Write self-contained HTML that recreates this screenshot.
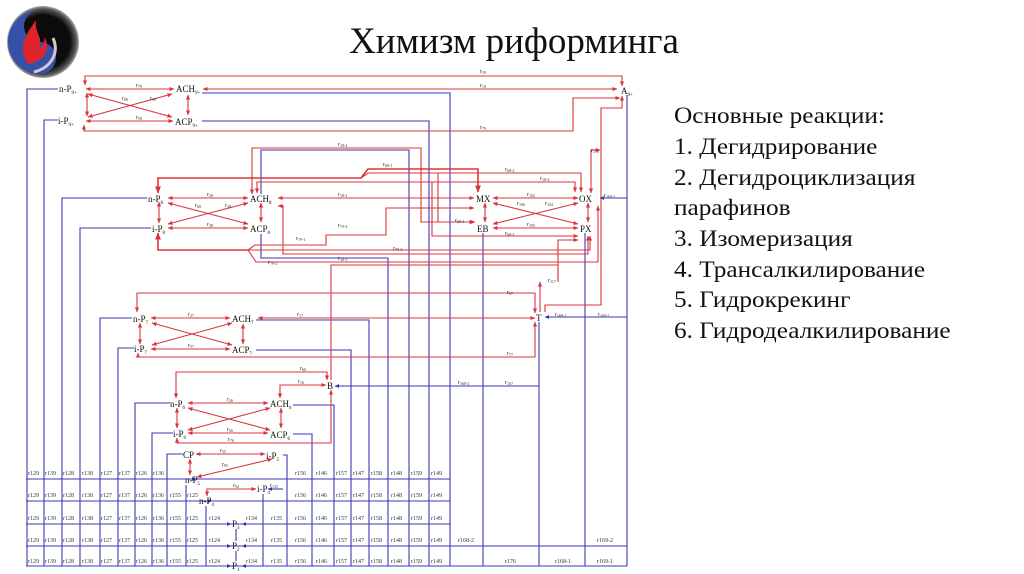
<!DOCTYPE html>
<html><head><meta charset="utf-8"><style>
html,body{margin:0;padding:0;background:#fff;width:1024px;height:574px;overflow:hidden}
svg{position:absolute;left:0;top:0}
.t{font-family:"Liberation Serif",serif}
</style></head><body>
<svg width="1024" height="574" viewBox="0 0 1024 574" xmlns="http://www.w3.org/2000/svg">
<defs>
<marker id="a" viewBox="0 0 6 6" refX="5.5" refY="3" markerWidth="4.5" markerHeight="4.5" orient="auto-start-reverse"><path d="M0,0.5 L6,3 L0,5.5z" fill="#d8323a"/></marker>
<marker id="b" viewBox="0 0 6 6" refX="5.5" refY="3" markerWidth="4" markerHeight="4" orient="auto-start-reverse"><path d="M0,0.5 L6,3 L0,5.5z" fill="#3434b0"/></marker>
<radialGradient id="lg" cx="0.5" cy="0.5" r="0.5"><stop offset="0.75" stop-color="#0c0c0c"/><stop offset="0.92" stop-color="#555"/><stop offset="1" stop-color="#aaa"/></radialGradient>
</defs>
<!-- logo -->
<circle cx="43" cy="42" r="36" fill="url(#lg)"/>
<path d="M40,10 A32,32 0 0 0 40,74 A16,16 0 0 0 40,42 A16,16 0 0 1 40,10z" fill="#3550a8"/>
<path d="M28,64 C16,46 28,32 36,20 C34,34 45,38 38,50 C43,46 45,42 44,37 C52,48 44,62 28,64z" fill="#e0242c"/>
<path d="M34,72 C50,68 60,54 53,38" stroke="#ccc" stroke-width="3" fill="none"/>
<text class="t" x="514" y="53" font-size="37" text-anchor="middle" fill="#111">Химизм риформинга</text>
<g class="t" font-size="23" fill="#111" transform="translate(674,0) scale(1.1,1)">
<text x="0" y="123">Основные реакции:</text>
<text x="0" y="154">1. Дегидрирование</text>
<text x="0" y="185">2. Дегидроциклизация</text>
<text x="0" y="215">парафинов</text>
<text x="0" y="246">3. Изомеризация</text>
<text x="0" y="277">4. Трансалкилирование</text>
<text x="0" y="307">5. Гидрокрекинг</text>
<text x="0" y="338">6. Гидродеалкилирование</text>
</g>

<!-- BLUE -->
<g stroke="#3a3ab8" stroke-width="1.1" fill="none">
<path d="M58,89 H27 V566"/>
<path d="M58,120 H44 V566"/>
<path d="M147,198 H62 V566"/>
<path d="M151,228 H80 V566"/>
<path d="M132,318 H100 V566"/>
<path d="M134,348 H118 V566"/>
<path d="M170,403 H135 V566"/>
<path d="M173,433 H152 V566"/>
<path d="M183,454 H167 V566"/>
<path d="M186,485 V566"/>
<path d="M206,506 V566"/>
<path d="M263,494 V566"/>
<path d="M283,455 H287 V566"/>
<path d="M293,434 H312 V566"/>
<path d="M293,405 H334 V566"/>
<path d="M256,350 H351 V566"/>
<path d="M256,320 H369 V566"/>
<path d="M261,234 V258 H388 V566"/>
<path d="M261,194 V150 H409 V566"/>
<path d="M202,121 H429 V566"/>
<path d="M202,93 H450 V566"/>
<path d="M483,233 V566"/>
<path d="M539,322 V566"/>
<path d="M585,233 V566"/>
<path d="M627,95 V566"/>
<path d="M627,317 H545" marker-end="url(#b)"/>
<path d="M539,386 H335" marker-end="url(#b)"/>
<path d="M627,198 H600" marker-end="url(#b)"/>
<path d="M26,479 H450 M26,501 H450 M26,524 H450 M26,546 H627 M26,566 H627"/>
<path d="M167,479 H196" marker-end="url(#b)"/>
<path d="M186,501 H212" marker-end="url(#b)"/>
<path d="M283,489 H268" marker-end="url(#b)"/>
<path d="M206,524 H231" marker-end="url(#b)"/>
<path d="M206,546 H231" marker-end="url(#b)"/>
<path d="M206,566 H231" marker-end="url(#b)"/>
<path d="M263,524 H242" marker-end="url(#b)"/>
<path d="M263,546 H242" marker-end="url(#b)"/>
<path d="M263,566 H242" marker-end="url(#b)"/>
<path d="M236,529 V541 M236,551 V561"/>
</g>

<!-- RED -->
<g stroke="#d8363e" stroke-width="1.1" fill="none">
<path d="M85,85 V76 H622 V86" marker-start="url(#a)" marker-end="url(#a)"/>
<path d="M203,89 H617" marker-start="url(#a)" marker-end="url(#a)"/>
<path d="M84,125 V131 H573 V98 H620" marker-start="url(#a)" marker-end="url(#a)"/>
<path d="M86,89 H174" marker-start="url(#a)" marker-end="url(#a)"/>
<path d="M86,121 H173" marker-start="url(#a)" marker-end="url(#a)"/>
<path d="M88,94 L172,117" marker-start="url(#a)" marker-end="url(#a)"/>
<path d="M88,117 L172,94" marker-start="url(#a)" marker-end="url(#a)"/>
<path d="M87,93 V116" marker-start="url(#a)" marker-end="url(#a)"/>
<path d="M188,95 V115" marker-start="url(#a)" marker-end="url(#a)"/>
<path d="M545,312 V305 H601 V108 H622 V96" marker-end="url(#a)"/>
<path d="M168,198 H248" marker-start="url(#a)" marker-end="url(#a)"/>
<path d="M168,228 H248" marker-start="url(#a)" marker-end="url(#a)"/>
<path d="M168,203 L248,224" marker-start="url(#a)" marker-end="url(#a)"/>
<path d="M168,224 L248,203" marker-start="url(#a)" marker-end="url(#a)"/>
<path d="M159,202 V223" marker-start="url(#a)" marker-end="url(#a)"/>
<path d="M261,203 V222" marker-start="url(#a)" marker-end="url(#a)"/>
<path d="M278,198 H474" marker-start="url(#a)" marker-end="url(#a)"/>
<path d="M493,198 H578" marker-start="url(#a)" marker-end="url(#a)"/>
<path d="M493,228 H578" marker-start="url(#a)" marker-end="url(#a)"/>
<path d="M493,203 L578,224" marker-start="url(#a)" marker-end="url(#a)"/>
<path d="M493,224 L578,203" marker-start="url(#a)" marker-end="url(#a)"/>
<path d="M485,203 V222" marker-start="url(#a)" marker-end="url(#a)"/>
<path d="M588,203 V222" marker-start="url(#a)" marker-end="url(#a)"/>
<path d="M252,194 V148 H421 V222 H474" marker-start="url(#a)" marker-end="url(#a)"/>
<path stroke-width="1.6" d="M158,193 V178 H361 L368,169 H478 V192" marker-start="url(#a)" marker-end="url(#a)"/>
<path d="M361,178 L368,173 H581 V192" marker-end="url(#a)"/>
<path d="M257,193 V182 H575 V192" marker-start="url(#a)" marker-end="url(#a)"/>
<path d="M438,173 V222 H475" marker-end="url(#a)"/>
<path d="M432,182 V236 H578" marker-end="url(#a)"/>
<path d="M278,206 H283 V254 H588 V236" marker-start="url(#a)" marker-end="url(#a)"/>
<path stroke-width="1.6" d="M158,233 V250 H248" marker-start="url(#a)"/>
<path d="M248,250 L255,245 H326 V235 H386 V208 H474" marker-end="url(#a)"/>
<path d="M248,250 H590 V236" marker-end="url(#a)"/>
<path d="M248,250 L256,262 H598 V206" marker-end="url(#a)"/>
<path d="M591,193 V150 H600" marker-start="url(#a)" marker-end="url(#a)"/>
<path d="M558,280 V240 H578" marker-end="url(#a)"/>
<path d="M137,312 V293 H535 V313" marker-start="url(#a)" marker-end="url(#a)"/>
<path d="M151,318 H230" marker-start="url(#a)" marker-end="url(#a)"/>
<path d="M258,318 H535" marker-start="url(#a)" marker-end="url(#a)"/>
<path d="M151,349 H230" marker-start="url(#a)" marker-end="url(#a)"/>
<path d="M152,323 L232,345" marker-start="url(#a)" marker-end="url(#a)"/>
<path d="M152,345 L232,323" marker-start="url(#a)" marker-end="url(#a)"/>
<path d="M140,323 V344" marker-start="url(#a)" marker-end="url(#a)"/>
<path d="M243,324 V344" marker-start="url(#a)" marker-end="url(#a)"/>
<path d="M138,353 V357 H535 V322" marker-start="url(#a)" marker-end="url(#a)"/>
<path d="M331,380 V265 H558 V282 M540,312 V282" marker-end="url(#a)"/>
<path d="M176,398 V372 H327 V380" marker-start="url(#a)" marker-end="url(#a)"/>
<path d="M280,398 V385 H326" marker-start="url(#a)" marker-end="url(#a)"/>
<path d="M188,403 H268" marker-start="url(#a)" marker-end="url(#a)"/>
<path d="M188,433 H268" marker-start="url(#a)" marker-end="url(#a)"/>
<path d="M188,408 L270,430" marker-start="url(#a)" marker-end="url(#a)"/>
<path d="M188,430 L270,408" marker-start="url(#a)" marker-end="url(#a)"/>
<path d="M177,408 V428" marker-start="url(#a)" marker-end="url(#a)"/>
<path d="M281,408 V428" marker-start="url(#a)" marker-end="url(#a)"/>
<path d="M177,438 V443 H331 V390" marker-start="url(#a)" marker-end="url(#a)"/>
<path d="M196,454 H265" marker-start="url(#a)" marker-end="url(#a)"/>
<path d="M272,459 L197,477" marker-start="url(#a)" marker-end="url(#a)"/>
<path d="M190,459 V475" marker-start="url(#a)" marker-end="url(#a)"/>
<path d="M207,496 V489 H256" marker-start="url(#a)" marker-end="url(#a)"/>
</g>

<g class="t" font-size="9" fill="#111">
<text x="59" y="92">n-P<tspan font-size="5" dy="2">9+</tspan></text>
<text x="176" y="92">ACH<tspan font-size="5" dy="2">9+</tspan></text>
<text x="58" y="124">i-P<tspan font-size="5" dy="2">9+</tspan></text>
<text x="175" y="125">ACP<tspan font-size="5" dy="2">9+</tspan></text>
<text x="621" y="94">A<tspan font-size="5" dy="2">9+</tspan></text>
<text x="148" y="202">n-P<tspan font-size="5" dy="2">8</tspan></text>
<text x="250" y="202">ACH<tspan font-size="5" dy="2">8</tspan></text>
<text x="152" y="232">i-P<tspan font-size="5" dy="2">8</tspan></text>
<text x="250" y="232">ACP<tspan font-size="5" dy="2">8</tspan></text>
<text x="476" y="202">MX</text>
<text x="579" y="202">OX</text>
<text x="477" y="232">EB</text>
<text x="580" y="232">PX</text>
<text x="133" y="322">n-P<tspan font-size="5" dy="2">7</tspan></text>
<text x="232" y="322">ACH<tspan font-size="5" dy="2">7</tspan></text>
<text x="134" y="352">i-P<tspan font-size="5" dy="2">7</tspan></text>
<text x="232" y="353">ACP<tspan font-size="5" dy="2">7</tspan></text>
<text x="536" y="321">T</text>
<text x="327" y="389">B</text>
<text x="170" y="407">n-P<tspan font-size="5" dy="2">6</tspan></text>
<text x="270" y="407">ACH<tspan font-size="5" dy="2">6</tspan></text>
<text x="173" y="437">i-P<tspan font-size="5" dy="2">6</tspan></text>
<text x="270" y="438">ACP<tspan font-size="5" dy="2">6</tspan></text>
<text x="183" y="458">CP</text>
<text x="266" y="459">i-P<tspan font-size="5" dy="2">5</tspan></text>
<text x="185" y="483">n-P<tspan font-size="5" dy="2">5</tspan></text>
<text x="257" y="492">i-P<tspan font-size="5" dy="2">4</tspan></text>
<text x="199" y="504">n-P<tspan font-size="5" dy="2">4</tspan></text>
<text x="232" y="527">P<tspan font-size="5" dy="2">3</tspan></text>
<text x="232" y="549">P<tspan font-size="5" dy="2">2</tspan></text>
<text x="232" y="569">P<tspan font-size="5" dy="2">1</tspan></text>
</g>

<g class="t" font-size="6" fill="#333">
<text x="480" y="73">r<tspan font-size="4" dy="1">59</tspan></text>
<text x="480" y="87">r<tspan font-size="4" dy="1">19</tspan></text>
<text x="480" y="129">r<tspan font-size="4" dy="1">79</tspan></text>
<text x="136" y="87">r<tspan font-size="4" dy="1">79</tspan></text>
<text x="136" y="119">r<tspan font-size="4" dy="1">59</tspan></text>
<text x="122" y="100">r<tspan font-size="4" dy="1">89</tspan></text>
<text x="150" y="100">r<tspan font-size="4" dy="1">39</tspan></text>
<text x="338" y="146">r<tspan font-size="4" dy="1">18-4</tspan></text>
<text x="383" y="166">r<tspan font-size="4" dy="1">68-1</tspan></text>
<text x="505" y="171">r<tspan font-size="4" dy="1">68-2</tspan></text>
<text x="540" y="180">r<tspan font-size="4" dy="1">18-2</tspan></text>
<text x="338" y="196">r<tspan font-size="4" dy="1">18-1</tspan></text>
<text x="207" y="196">r<tspan font-size="4" dy="1">28</tspan></text>
<text x="207" y="226">r<tspan font-size="4" dy="1">58</tspan></text>
<text x="195" y="207">r<tspan font-size="4" dy="1">68</tspan></text>
<text x="225" y="207">r<tspan font-size="4" dy="1">38</tspan></text>
<text x="527" y="196">r<tspan font-size="4" dy="1">102</tspan></text>
<text x="517" y="205">r<tspan font-size="4" dy="1">106</tspan></text>
<text x="545" y="205">r<tspan font-size="4" dy="1">104</tspan></text>
<text x="527" y="226">r<tspan font-size="4" dy="1">105</tspan></text>
<text x="455" y="222">r<tspan font-size="4" dy="1">68-4</tspan></text>
<text x="505" y="235">r<tspan font-size="4" dy="1">68-3</tspan></text>
<text x="338" y="227">r<tspan font-size="4" dy="1">79-4</tspan></text>
<text x="296" y="240">r<tspan font-size="4" dy="1">79-1</tspan></text>
<text x="393" y="250">r<tspan font-size="4" dy="1">79-3</tspan></text>
<text x="338" y="260">r<tspan font-size="4" dy="1">18-3</tspan></text>
<text x="268" y="264">r<tspan font-size="4" dy="1">79-2</tspan></text>
<text x="591" y="152">r<tspan font-size="4" dy="1">118</tspan></text>
<text x="604" y="197">r<tspan font-size="4" dy="1">169-1</tspan></text>
<text x="548" y="282">r<tspan font-size="4" dy="1">117</tspan></text>
<text x="507" y="294">r<tspan font-size="4" dy="1">67</tspan></text>
<text x="188" y="316">r<tspan font-size="4" dy="1">27</tspan></text>
<text x="297" y="316">r<tspan font-size="4" dy="1">17</tspan></text>
<text x="188" y="347">r<tspan font-size="4" dy="1">57</tspan></text>
<text x="507" y="355">r<tspan font-size="4" dy="1">77</tspan></text>
<text x="555" y="316">r<tspan font-size="4" dy="1">168-1</tspan></text>
<text x="598" y="316">r<tspan font-size="4" dy="1">169-2</tspan></text>
<text x="300" y="370">r<tspan font-size="4" dy="1">66</tspan></text>
<text x="298" y="383">r<tspan font-size="4" dy="1">16</tspan></text>
<text x="458" y="384">r<tspan font-size="4" dy="1">168-2</tspan></text>
<text x="505" y="384">r<tspan font-size="4" dy="1">167</tspan></text>
<text x="227" y="401">r<tspan font-size="4" dy="1">26</tspan></text>
<text x="227" y="431">r<tspan font-size="4" dy="1">56</tspan></text>
<text x="228" y="441">r<tspan font-size="4" dy="1">76</tspan></text>
<text x="220" y="452">r<tspan font-size="4" dy="1">55</tspan></text>
<text x="222" y="466">r<tspan font-size="4" dy="1">95</tspan></text>
<text x="233" y="487">r<tspan font-size="4" dy="1">94</tspan></text>
<text x="270" y="487">r<tspan font-size="4" dy="1">135</tspan></text>
</g>
<g class="t" font-size="6" fill="#333">
<text y="475">
<tspan x="28">r129</tspan><tspan x="45">r139</tspan><tspan x="63">r128</tspan><tspan x="82">r138</tspan><tspan x="101">r127</tspan><tspan x="119">r137</tspan><tspan x="136">r126</tspan><tspan x="153">r136</tspan><tspan x="295">r156</tspan><tspan x="316">r146</tspan><tspan x="336">r157</tspan><tspan x="353">r147</tspan><tspan x="371">r158</tspan><tspan x="391">r148</tspan><tspan x="411">r159</tspan><tspan x="431">r149</tspan></text>
<text y="497">
<tspan x="28">r129</tspan><tspan x="45">r139</tspan><tspan x="63">r128</tspan><tspan x="82">r138</tspan><tspan x="101">r127</tspan><tspan x="119">r137</tspan><tspan x="136">r126</tspan><tspan x="153">r136</tspan><tspan x="170">r155</tspan><tspan x="187">r125</tspan><tspan x="295">r156</tspan><tspan x="316">r146</tspan><tspan x="336">r157</tspan><tspan x="353">r147</tspan><tspan x="371">r158</tspan><tspan x="391">r148</tspan><tspan x="411">r159</tspan><tspan x="431">r149</tspan></text>
<text y="520">
<tspan x="28">r129</tspan><tspan x="45">r139</tspan><tspan x="63">r128</tspan><tspan x="82">r138</tspan><tspan x="101">r127</tspan><tspan x="119">r137</tspan><tspan x="136">r126</tspan><tspan x="153">r136</tspan><tspan x="170">r155</tspan><tspan x="187">r125</tspan><tspan x="209">r124</tspan><tspan x="246">r134</tspan><tspan x="271">r135</tspan><tspan x="295">r156</tspan><tspan x="316">r146</tspan><tspan x="336">r157</tspan><tspan x="353">r147</tspan><tspan x="371">r158</tspan><tspan x="391">r148</tspan><tspan x="411">r159</tspan><tspan x="431">r149</tspan></text>
<text y="542">
<tspan x="28">r129</tspan><tspan x="45">r139</tspan><tspan x="63">r128</tspan><tspan x="82">r138</tspan><tspan x="101">r127</tspan><tspan x="119">r137</tspan><tspan x="136">r126</tspan><tspan x="153">r136</tspan><tspan x="170">r155</tspan><tspan x="187">r125</tspan><tspan x="209">r124</tspan><tspan x="246">r134</tspan><tspan x="271">r135</tspan><tspan x="295">r156</tspan><tspan x="316">r146</tspan><tspan x="336">r157</tspan><tspan x="353">r147</tspan><tspan x="371">r158</tspan><tspan x="391">r148</tspan><tspan x="411">r159</tspan><tspan x="431">r149</tspan><tspan x="458">r168-2</tspan><tspan x="597">r169-2</tspan></text>
<text y="563">
<tspan x="28">r129</tspan><tspan x="45">r139</tspan><tspan x="63">r128</tspan><tspan x="82">r138</tspan><tspan x="101">r127</tspan><tspan x="119">r137</tspan><tspan x="136">r126</tspan><tspan x="153">r136</tspan><tspan x="170">r155</tspan><tspan x="187">r125</tspan><tspan x="209">r124</tspan><tspan x="246">r134</tspan><tspan x="271">r135</tspan><tspan x="295">r156</tspan><tspan x="316">r146</tspan><tspan x="336">r157</tspan><tspan x="353">r147</tspan><tspan x="371">r158</tspan><tspan x="391">r148</tspan><tspan x="411">r159</tspan><tspan x="431">r149</tspan><tspan x="505">r176</tspan><tspan x="555">r168-1</tspan><tspan x="597">r169-1</tspan></text>
</g>
</svg>
</body></html>
